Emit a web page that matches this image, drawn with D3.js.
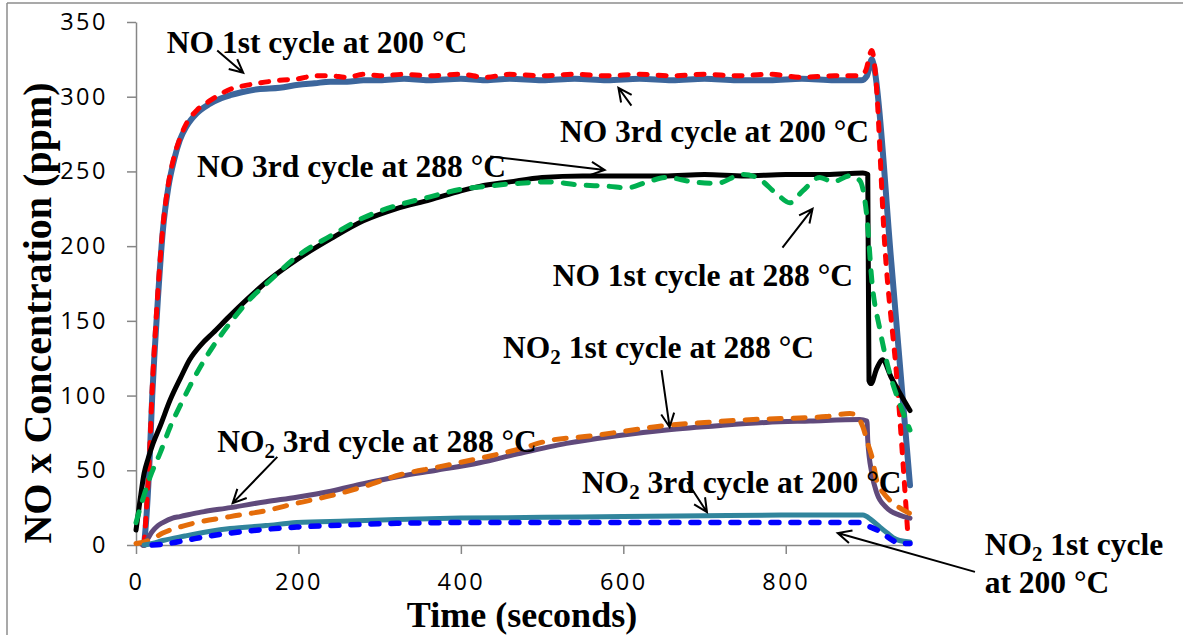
<!DOCTYPE html>
<html>
<head>
<meta charset="utf-8">
<script src="https://cdn.jsdelivr.net/npm/d3@7"></script>
<style>
  html, body { margin: 0; padding: 0; background: #fff; }
  svg { display: block; }
</style>
</head>
<body>
<svg id="chart" width="1183" height="635"></svg>
<script>
// Axis ticks
const xTicks = [0, 200, 400, 600, 800];
const yTicks = [0, 50, 100, 150, 200, 250, 300, 350];

// Series: [time (s), concentration (ppm)]
const no3rd200 = [[10,0],[13,20],[17,60],[20,100],[23,130],[27,165],[33,210],[40,240],[47,258],[54,271],[62,280],[75,289],[90,295],[105,299],[116,301],[130,303],[150,305],[177,306],[200,308],[220,309],[239,310],[260,310],[280,311],[300,311],[330,312],[360,311],[400,312],[430,311],[460,312],[500,311],[540,312],[580,311],[620,312],[660,311],[700,312],[740,311],[780,311],[820,312],[860,311],[893,311],[900,314],[906,325],[908,322],[930,189],[953,40]];

const no1st200 = [[10,0],[13,25],[17,65],[20,105],[23,135],[27,170],[33,212],[40,242],[47,260],[54,272],[62,282],[75,291],[90,297],[105,302],[116,305],[130,307],[150,309],[177,311],[200,312],[220,314],[239,314],[260,313],[280,315],[300,314],[330,315],[360,314],[400,315],[430,313],[460,315],[500,314],[540,315],[580,314],[620,315],[660,314],[700,315],[740,314],[780,315],[820,313],[860,314],[890,314],[898,317],[906,331],[910,318],[922,200],[937,110],[950,10]];

const no3rd288 = [[0,10],[5,30],[10,48],[15,58],[21,68],[30,80],[42,97],[55,112],[66,124],[80,134],[95,142],[115,153],[136,164],[165,178],[198,191],[240,205],[280,217],[320,225],[362,231],[400,237],[423,240],[460,243],[500,246],[550,247],[600,247],[650,247],[700,248],[750,247],[800,248],[850,248],[895,249],[901,248],[902.5,110],[905,108],[912,118],[919,124],[930,112],[953,90]];

const no1st288 = [[0,15],[8,30],[17,45],[30,62],[42,79],[55,94],[66,106],[80,120],[95,133],[115,148],[136,162],[165,177],[198,193],[240,207],[280,219],[320,227],[362,233],[400,238],[430,240],[470,242],[508,243],[545,241],[583,240],[604,239],[630,243],[653,246],[685,243],[715,242],[747,248],[764,246],[789,235],[805,229],[821,237],[842,246],[858,243],[879,247],[891,244],[900,219],[906,177],[916,144],[928,115],[940,95],[953,77]];

const no2_3rd288 = [[8,0],[13,3],[20,9],[27,13],[33,15],[45,18],[54,19],[80,22],[116,25],[160,29],[198,32],[240,36],[280,41],[325,46],[370,50],[423,55],[470,61],[530,68],[590,73],[653,77],[720,80],[776,82],[830,83],[891,84],[900,83],[901,70],[906,48],[912,35],[924,25],[940,20],[953,18]];

const no2_1st288 = [[0,1],[10,2],[20,4],[33,8],[60,13],[116,19],[160,23],[198,28],[240,33],[280,39],[325,47],[370,52],[423,58],[470,64],[510,70],[560,73],[600,76],[653,80],[700,82],[760,84],[817,85],[850,86],[879,88],[888,86],[895,79],[901,68],[907,57],[912,43],[920,35],[928,30],[940,25],[953,21]];

const no2_3rd200 = [[10,0],[20,1],[33,3],[60,6],[90,9],[116,11],[160,13],[198,15],[260,16],[321,17],[400,18],[500,18.5],[600,19],[700,19.5],[800,20],[870,20],[895,20],[905,17],[916,12],[925,8],[932,5],[940,3],[953,2]];

const no2_1st200 = [[20,0],[33,0.5],[60,3],[90,6],[116,8],[160,10.5],[198,12],[260,13.5],[321,14.5],[400,15],[600,15],[800,15],[891,15],[900,13],[916,9],[932,3],[940,1],[953,1]];

// Line styles, drawn in this order
const seriesList = [
  { data: no3rd200,   color: "#3C669C", width: 6,   dash: null },
  { data: no1st200,   color: "#FF0000", width: 5,   dash: "8,11" },
  { data: no3rd288,   color: "#000000", width: 5,   dash: null },
  { data: no1st288,   color: "#00B050", width: 5,   dash: "11,12" },
  { data: no2_3rd288, color: "#604A7B", width: 5,   dash: null },
  { data: no2_1st288, color: "#E46C0A", width: 5,   dash: "12,12" },
  { data: no2_3rd200, color: "#31859C", width: 5,   dash: null },
  { data: no2_1st200, color: "#0000FF", width: 5.5, dash: "8,12" }
];

// Callout labels: text parts (sub = subscript), anchor in data units, arrow tail/tip in data units
const callouts = [
  { lines: [[["NO 1st cycle at 200 °C"]]], at: [38, 329], tail: [100, 331], tip: [132, 316] },
  { lines: [[["NO 3rd cycle at 200 °C"]]], at: [522, 270], tail: [610, 294], tip: [594, 306] },
  { lines: [[["NO 3rd cycle at 288 °C"]]], at: [75, 246], tail: [436, 260], tip: [577, 251] },
  { lines: [[["NO 1st cycle at 288 °C"]]], at: [513, 173], tail: [796, 199], tip: [833, 225] },
  { lines: [[["NO"],["2","sub"],[" 1st cycle at 288 °C"]]], at: [452, 125], tail: [647, 117], tip: [657, 79] },
  { lines: [[["NO"],["2","sub"],[" 3rd cycle at 288 °C"]]], at: [100, 62], tail: [174, 59], tip: [119, 28] },
  { lines: [[["NO"],["2","sub"],[" 3rd cycle at 200 °C"]]], at: [549, 35], tail: [679, 42], tip: [703, 22] },
  { lines: [[["NO"],["2","sub"],[" 1st cycle"]], [["at 200 °C"]]], at: [1045, -7], tail: [1033, -18], tip: [864, 8] }
];

const svg = d3.select("#chart");
const W = 1183, H = 635;
const plot = { left: 136, right: 910, top: 22, bottom: 545 };

const x = d3.scaleLinear().domain([0, 953]).range([plot.left, plot.right]);
const y = d3.scaleLinear().domain([0, 350]).range([plot.bottom, plot.top]);

// outer frame (left and top edges)
svg.append("line").attr("x1", 7).attr("y1", 3).attr("x2", 7).attr("y2", H)
  .attr("stroke", "#8c8c8c").attr("stroke-width", 1.5);
svg.append("line").attr("x1", 7).attr("y1", 3).attr("x2", W).attr("y2", 3)
  .attr("stroke", "#8c8c8c").attr("stroke-width", 1.5);

const tickFont = "'Open Sans', sans-serif";

// y axis
const yAxis = svg.append("g").attr("transform", `translate(${plot.left},0)`)
  .call(d3.axisLeft(y).tickValues(yTicks).tickSize(9).tickSizeOuter(0).tickPadding(19));
// x axis
const xAxis = svg.append("g").attr("transform", `translate(0,${plot.bottom})`)
  .call(d3.axisBottom(x).tickValues(xTicks).tickSize(9).tickSizeOuter(0).tickPadding(19));

[yAxis, xAxis].forEach(g => {
  g.select(".domain").attr("stroke", "#868686").attr("stroke-width", 1.5);
  g.selectAll(".tick line").attr("stroke", "#868686").attr("stroke-width", 1.5);
  g.selectAll(".tick text")
    .attr("fill", "#000")
    .style("font-family", tickFont)
    .style("font-size", "23.5px")
    .style("letter-spacing", "2.5px");
});

// series lines
const line = d3.line().x(d => x(d[0])).y(d => y(d[1])).curve(d3.curveMonotoneX);
const gLines = svg.append("g");
seriesList.forEach(s => {
  gLines.append("path")
    .attr("d", line(s.data))
    .attr("fill", "none")
    .attr("stroke", s.color)
    .attr("stroke-width", s.width)
    .attr("stroke-linejoin", "round")
    .attr("stroke-linecap", "round")
    .attr("stroke-dasharray", s.dash);
});

// axis titles
const serif = "'Liberation Serif', 'Times New Roman', serif";
svg.append("text")
  .attr("x", 522).attr("y", 627)
  .attr("text-anchor", "middle")
  .style("font-family", serif).style("font-weight", "bold").style("font-size", "36px")
  .text("Time (seconds)");
svg.append("text")
  .attr("transform", "translate(51,313) rotate(-90)")
  .attr("text-anchor", "middle")
  .style("font-family", serif).style("font-weight", "bold").style("font-size", "40px")
  .text("NO x Concentration (ppm)");

// callouts: one text element per label, extra lines as tspans
const gNotes = svg.append("g");
const lineGap = 38, subShift = 6;
callouts.forEach(c => {
  const ax = x(c.at[0]), ay = y(c.at[1]);
  const t = gNotes.append("text")
    .attr("x", ax).attr("y", ay)
    .style("font-family", serif).style("font-weight", "bold").style("font-size", "31.5px")
    .attr("fill", "#000");
  c.lines.forEach((parts, i) => {
    let shifted = 0; // current baseline offset from a subscript
    parts.forEach((p, j) => {
      const ts = t.append("tspan");
      if (j === 0 && i > 0) ts.attr("x", ax).attr("dy", lineGap - shifted);
      if (p[1] === "sub") {
        ts.attr("dy", subShift).style("font-size", "21px");
        shifted = subShift;
      } else if (shifted && j > 0) {
        ts.attr("dy", -shifted);
        shifted = 0;
      }
      ts.text(p[0]);
    });
  });
  // arrow
  const x1 = x(c.tail[0]), y1 = y(c.tail[1]), x2 = x(c.tip[0]), y2 = y(c.tip[1]);
  const ang = Math.atan2(y2 - y1, x2 - x1);
  const hl = 15, ha = 0.45;
  gNotes.append("path")
    .attr("d", `M${x1},${y1}L${x2},${y2}` +
      `M${x2 - hl * Math.cos(ang - ha)},${y2 - hl * Math.sin(ang - ha)}L${x2},${y2}` +
      `L${x2 - hl * Math.cos(ang + ha)},${y2 - hl * Math.sin(ang + ha)}`)
    .attr("fill", "none").attr("stroke", "#000").attr("stroke-width", 2);
});
</script>
</body>
</html>
